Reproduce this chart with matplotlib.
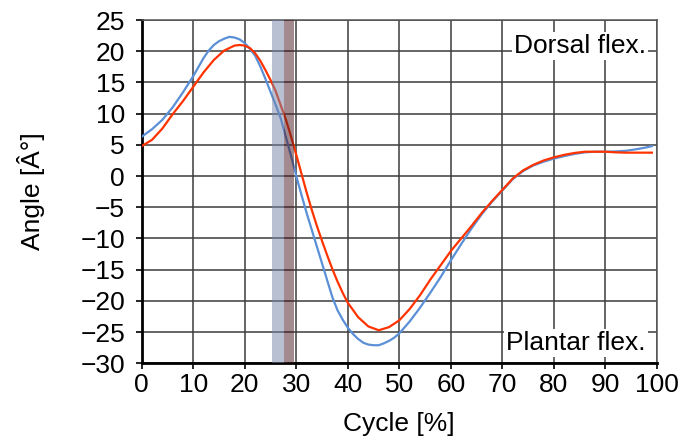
import matplotlib
matplotlib.use("Agg")
import matplotlib.pyplot as plt

plt.rcParams["font.family"] = ["Liberation Sans", "DejaVu Sans"]

# gait cycle angle, two curves
cycle_a = [0, 2, 4, 6, 8, 10, 12, 13, 14, 15, 16, 17, 18, 19, 20, 21, 22, 23,
           24, 25, 26, 27, 28, 29, 30, 31, 32, 33, 34, 35, 36, 37, 38, 39, 40,
           41, 42, 43, 44, 45, 46, 47, 48, 49, 50, 52, 54, 56, 58, 60, 62, 64,
           66, 68, 70, 72, 74, 76, 78, 80, 82, 84, 86, 88, 90, 92, 94, 96, 98,
           99]
angle_a = [6.3, 7.5, 9.0, 11.0, 13.4, 16.0, 18.9, 20.1, 21.0, 21.6, 22.0, 22.3,
           22.2, 21.9, 21.3, 20.4, 19.3, 17.6, 15.6, 13.5, 11.4, 9.2, 6.2, 3.2,
           0.0, -3.0, -5.9, -8.6, -11.3, -14.0, -16.7, -19.4, -21.5, -23.0,
           -24.3, -25.3, -26.1, -26.7, -27.0, -27.1, -27.1, -26.8, -26.4, -25.9,
           -25.2, -23.3, -21.1, -18.7, -16.2, -13.5, -10.9, -8.4, -6.1, -4.1,
           -2.3, -0.5, 0.8, 1.7, 2.3, 2.8, 3.2, 3.55, 3.8, 3.9, 3.9, 3.95, 4.05,
           4.3, 4.6, 4.8]

cycle_b = [0, 2, 4, 6, 8, 10, 12, 14, 16, 18, 19, 20, 21, 22, 23, 24, 25, 26,
           27, 28, 29, 30, 31, 32, 33, 34, 35, 36, 37, 38, 39, 40, 42, 44, 46,
           48, 50, 52, 54, 56, 58, 60, 62, 64, 66, 68, 70, 72, 74, 76, 78, 80,
           82, 84, 86, 88, 90, 92, 94, 96, 98, 99]
angle_b = [4.8, 5.8, 7.6, 9.9, 12.0, 14.3, 16.6, 18.6, 20.1, 20.9, 21.0, 20.9,
           20.5, 19.7, 18.5, 17.0, 15.4, 13.6, 11.3, 9.0, 6.3, 3.4, 0.4, -2.6,
           -5.4, -8.0, -10.4, -12.7, -14.9, -16.9, -18.7, -20.3, -22.6, -24.1,
           -24.7, -24.2, -23.1, -21.3, -19.1, -16.6, -14.3, -12.0, -10.0, -8.0,
           -5.9, -4.0, -2.2, -0.4, 0.9, 1.8, 2.5, 3.0, 3.4, 3.7, 3.9, 3.9, 3.9,
           3.8, 3.75, 3.75, 3.75, 3.75]

band_blue = (25.3, 27.6)
band_brown = (27.6, 29.5)

fig = plt.figure(figsize=(7, 4.38), dpi=100)
ax = fig.add_axes([0.2024, 0.1705, 0.7362, 0.7838])

ax.plot(cycle_a, angle_a, color="#5b8fd6", lw=1.6, zorder=3)
ax.plot(cycle_b, angle_b, color="#ff3300", lw=1.6, zorder=4)

ax.axvspan(*band_blue, color="#7383a7", alpha=0.5, lw=0, zorder=5)
ax.axvspan(*band_brown, color="#491721", alpha=0.5, lw=0, zorder=5)

ax.set_xlim(0, 100)
ax.set_ylim(-30, 25)
ax.set_xticks(range(0, 101, 10))
ax.set_yticks(range(-30, 26, 5))
ax.grid(True, color="#3c3c3c", lw=1.1, zorder=1)
ax.set_axisbelow(True)

for side in ["top", "right"]:
    ax.spines[side].set_color("#555555")
    ax.spines[side].set_linewidth(1.1)
for side in ["left", "bottom"]:
    ax.spines[side].set_color("black")
    ax.spines[side].set_linewidth(2)

ax.tick_params(axis="both", direction="out", length=4, width=1.2,
               labelsize=19, colors="black")
ax.tick_params(axis="x", pad=3)
ax.tick_params(axis="y", pad=8)

box = dict(facecolor="white", edgecolor="none", pad=1.5)
ax.text(85.1, 19.7, "Dorsal flex.", fontsize=19, ha="center", va="baseline",
        bbox=box, zorder=6)
ax.text(84.3, -27.9, "Plantar flex.", fontsize=19, ha="center", va="baseline",
        bbox=box, zorder=6)

fig.text(399 / 700, 1 - 431 / 438, "Cycle [%]", fontsize=19, ha="center",
         va="baseline")
fig.text(31 / 700, 1 - 191 / 438, "Angle [Â°]", fontsize=19, rotation=90,
         ha="center", va="center")

fig.savefig("out.png", dpi=100)
